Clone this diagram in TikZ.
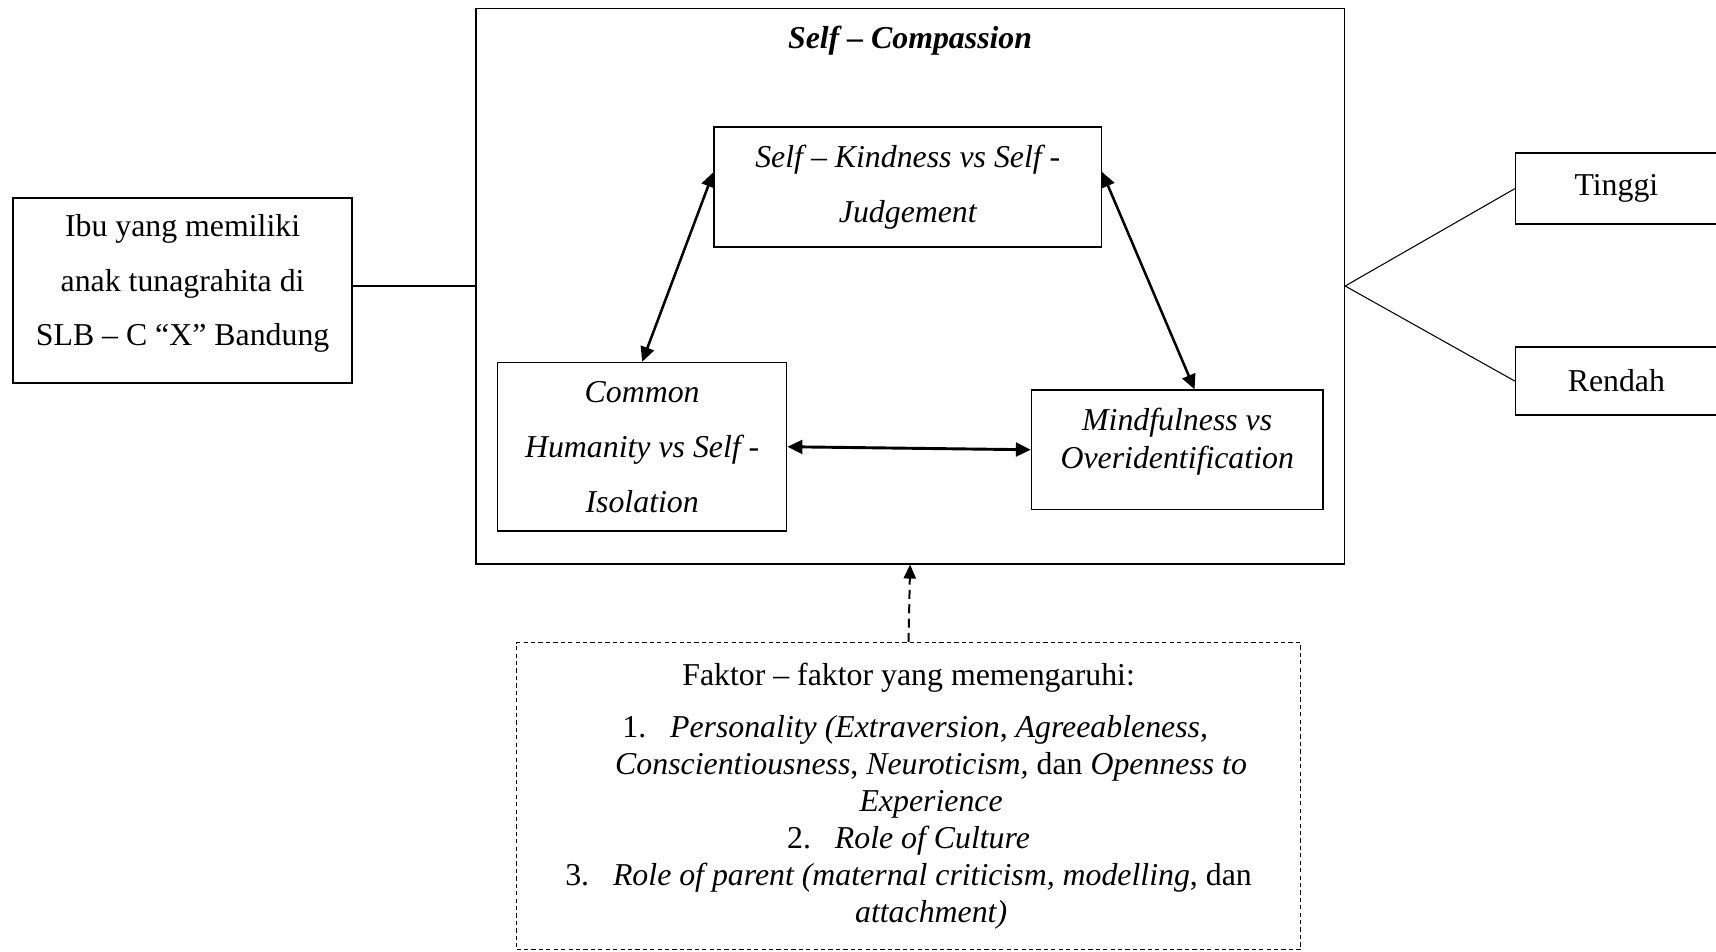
\documentclass[tikz,border=0pt]{standalone}
\usepackage{fontspec}
\setmainfont{Liberation Serif}
\usepackage{tikz}
\usetikzlibrary{arrows.meta, positioning}

\begin{document}
\begin{tikzpicture}[
        box/.style={draw, line width=0.6pt, inner sep=0pt, align=center, font=\fontsize{12}{20.7}\selectfont},
        dimbox/.style={box, font=\fontsize{12}{20.7}\selectfont\itshape},
        dbox/.style={draw, line width=0.5pt, dash pattern=on 1.6pt off 1.2pt, inner sep=0pt, align=center, font=\fontsize{12}{14}\selectfont},
        arr/.style={{Triangle[length=5.6pt, width=5.2pt]}-{Triangle[length=5.6pt, width=5.2pt]}, line width=0.95pt},
        darr/.style={-{Triangle[length=5.3pt, width=4.6pt]}, line width=0.75pt, dash pattern=on 3.4pt off 2pt},
        link/.style={line width=0.4pt}
    ]
        \useasboundingbox (0,0) rectangle (22.74,-12.61);
        \node[box, minimum width=4.49cm, minimum height=2.45cm, text depth=0.28cm] (ibu) at (2.42,-3.85)
            {Ibu yang memiliki\\anak tunagrahita di\\SLB -- C ``X'' Bandung};
        \node[box, minimum width=11.51cm, minimum height=7.36cm] (sc) at (12.06,-3.79) {};
        \node[font=\fontsize{12}{14}\selectfont\bfseries\itshape, below=0.12cm of sc.north] (judul) {Self -- Compassion};
        \node[dimbox, minimum width=5.13cm, minimum height=1.59cm] (sk) at (12.03,-2.48)
            {Self -- Kindness vs Self -\\Judgement};
        \node[dimbox, minimum width=3.83cm, minimum height=2.23cm] (ch) at (8.51,-5.92)
            {Common\\Humanity vs Self -\\Isolation};
        \node[dimbox, minimum width=3.86cm, minimum height=1.58cm, font=\fontsize{12}{14.3}\selectfont\itshape, text depth=0.3cm] (mo) at (15.60,-5.96)
            {Mindfulness vs\\Overidentification};
        \node[box, minimum width=2.67cm, minimum height=0.94cm] (tinggi) at (21.42,-2.50) {Tinggi};
        \node[box, minimum width=2.67cm, minimum height=0.90cm] (rendah) at (21.42,-5.05) {Rendah};
        \node[dbox, minimum width=10.39cm, minimum height=4.07cm] (faktor) at (12.04,-10.55)
            {Faktor -- faktor yang memengaruhi:\\[5.6pt]
             \hspace*{5pt}1.\hspace{9pt}\textit{Personality (Extraversion}, \textit{Agreeableness,}\\
             \hspace*{17pt}\textit{Conscientiousness}, \textit{Neuroticism,} dan \textit{Openness to}\\
             \hspace*{17pt}\textit{Experience}\\
             2.\hspace{9pt}\textit{Role of Culture}\\
             3.\hspace{9pt}\textit{Role of parent (maternal criticism, modelling}, dan\\
             \hspace*{17pt}\textit{attachment)}};
        \draw[link] (sc.west -| ibu.east) -- (sc.west);
        \draw[link] (sc.east) -- (tinggi.west);
        \draw[link] (sc.east) -- (rendah.west);
        \draw[arr] ([yshift=0.2cm]sk.west) -- (ch.north);
        \draw[arr] ([yshift=0.2cm]sk.east) -- ([xshift=0.23cm]mo.north);
        \draw[arr, line width=1.1pt] (ch.east) -- (mo.west);
        \draw[darr] (faktor.north) -- (sc.south);
    \end{tikzpicture}
\end{document}
